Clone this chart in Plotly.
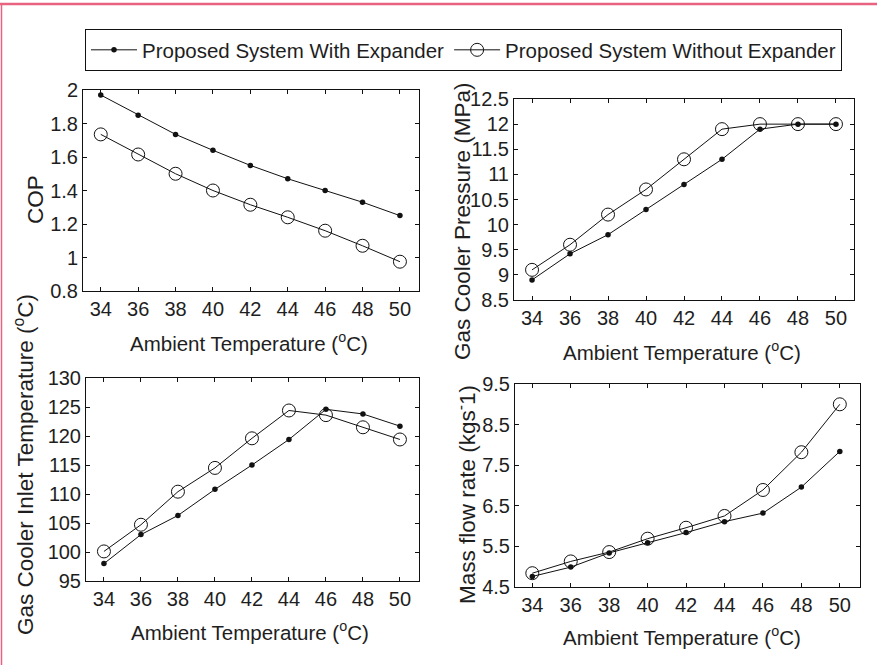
import plotly.graph_objects as go

# ---- data ----
ambient_temp = [34, 36, 38, 40, 42, 44, 46, 48, 50]

cop_with = [1.97, 1.85, 1.735, 1.64, 1.55, 1.47, 1.40, 1.33, 1.25]
cop_without = [1.735, 1.615, 1.50, 1.40, 1.315, 1.24, 1.16, 1.07, 0.975]

pressure_with = [8.9, 9.42, 9.8, 10.3, 10.8, 11.3, 11.9, 12.0, 12.0]
pressure_without = [9.1, 9.6, 10.2, 10.7, 11.3, 11.9, 12.0, 12.0, 12.0]

inlet_with = [98.0, 103.0, 106.3, 110.8, 115.0, 119.4, 124.6, 123.8, 121.7]
inlet_without = [100.1, 104.7, 110.4, 114.5, 119.6, 124.4, 123.6, 121.5, 119.4]

mass_with = [4.76, 4.99, 5.34, 5.59, 5.84, 6.11, 6.32, 6.96, 7.84]
mass_without = [4.84, 5.13, 5.36, 5.69, 5.96, 6.25, 6.89, 7.82, 9.0]

x_ticks = [34, 36, 38, 40, 42, 44, 46, 48, 50]
cop_ticks = [0.8, 1.0, 1.2, 1.4, 1.6, 1.8, 2.0]
cop_labels = ["0.8", "1", "1.2", "1.4", "1.6", "1.8", "2"]
pressure_ticks = [8.5, 9, 9.5, 10, 10.5, 11, 11.5, 12, 12.5]
pressure_labels = ["8.5", "9", "9.5", "10", "10.5", "11", "11.5", "12", "12.5"]
inlet_ticks = [95, 100, 105, 110, 115, 120, 125, 130]
mass_ticks = [4.5, 5.5, 6.5, 7.5, 8.5, 9.5]

series_names = ["Proposed System With Expander", "Proposed System Without Expander"]
x_title = "Ambient Temperature (<sup>o</sup>C)"
y_titles = ["COP", "Gas Cooler Pressure (MPa)",
            "Gas Cooler Inlet Temperature (<sup>o</sup>C)",
            "Mass flow rate (kgs<sup>-</sup>1)"]

# ---- layout helpers (pixel geometry) ----
W, H = 877, 665
FONT = "Liberation Sans, Arial, sans-serif"
TXT = "#1e1e1e"


def px_x(a, b):
    return [a / W, b / W]


def px_y(top, bottom):
    return [1 - bottom / H, 1 - top / H]


panels = [
    dict(xd=px_x(83, 419), yd=px_y(90, 291), xr=[33.05, 51.02], yr=[0.8, 2.0],
         yt=cop_ticks, ytl=cop_labels, w=cop_with, wo=cop_without),
    dict(xd=px_x(514, 854), yd=px_y(99, 300), xr=[33.05, 50.95], yr=[8.5, 12.5],
         yt=pressure_ticks, ytl=pressure_labels, w=pressure_with, wo=pressure_without),
    dict(xd=px_x(86, 419), yd=px_y(378, 581), xr=[33.03, 51.03], yr=[95, 130],
         yt=inlet_ticks, ytl=[str(v) for v in inlet_ticks], w=inlet_with, wo=inlet_without),
    dict(xd=px_x(515, 860), yd=px_y(384, 587), xr=[33.1, 51.05], yr=[4.5, 9.5],
         yt=mass_ticks, ytl=[str(v) for v in mass_ticks], w=mass_with, wo=mass_without),
]

fig = go.Figure()
layout_axes = {}
for i, p in enumerate(panels):
    k = "" if i == 0 else str(i + 1)
    fig.add_trace(go.Scatter(
        x=ambient_temp, y=p["w"], mode="lines+markers", name=series_names[0],
        xaxis="x" + k, yaxis="y" + k, showlegend=(i == 0),
        line=dict(color="#111111", width=1),
        marker=dict(symbol="circle", size=5.5, color="#111111"),
    ))
    fig.add_trace(go.Scatter(
        x=ambient_temp, y=p["wo"], mode="lines+markers", name=series_names[1],
        xaxis="x" + k, yaxis="y" + k, showlegend=(i == 0),
        line=dict(color="#111111", width=1),
        marker=dict(symbol="circle-open", size=13, color="#111111",
                    line=dict(width=1, color="#111111")),
    ))
    common = dict(showgrid=False, zeroline=False, showline=True, linecolor="#111111",
                  linewidth=1, mirror="ticks", ticks="inside", ticklen=4,
                  tickcolor="#111111", tickwidth=1,
                  tickfont=dict(family=FONT, size=20, color=TXT), automargin=False)
    layout_axes["xaxis" + k] = dict(domain=p["xd"], range=p["xr"], tickvals=x_ticks,
                                    anchor="y" + k, **common)
    layout_axes["yaxis" + k] = dict(domain=p["yd"], range=p["yr"], tickvals=p["yt"],
                                    ticktext=p["ytl"], anchor="x" + k, **common)

annotations = []
# x-axis titles
for (cx, cy) in [(249, 342), (682, 351), (250, 631), (682, 636)]:
    annotations.append(dict(text=x_title, x=cx / W, y=1 - cy / H, xref="paper", yref="paper",
                            showarrow=False, xanchor="center", yanchor="middle",
                            font=dict(family=FONT, size=20.5, color=TXT)))
# y-axis titles
for t, (cx, cy) in zip(y_titles, [(35, 200), (462, 221), (24, 465), (466, 495)]):
    annotations.append(dict(text=t, x=cx / W, y=1 - cy / H, xref="paper", yref="paper",
                            showarrow=False, xanchor="center", yanchor="middle", textangle=-90,
                            font=dict(family=FONT, size=22.5, color=TXT)))

shapes = [
    dict(type="line", xref="paper", yref="paper", x0=0, x1=1, y0=1 - 4 / H, y1=1 - 4 / H,
         line=dict(color="#e8637f", width=2.5)),
    dict(type="line", xref="paper", yref="paper", x0=1.5 / W, x1=1.5 / W, y0=0, y1=1 - 4 / H,
         line=dict(color="#e8637f", width=1.5)),
]

fig.update_layout(
    width=W, height=H, margin=dict(l=0, r=0, t=0, b=0),
    paper_bgcolor="white", plot_bgcolor="white",
    font=dict(family=FONT, color=TXT),
    legend=dict(orientation="h", x=85 / W, y=1 - 29 / H, xanchor="left", yanchor="top",
                bordercolor="#111111", borderwidth=1, bgcolor="white",
                itemwidth=46,
                font=dict(family=FONT, size=20.5, color=TXT)),
    annotations=annotations, shapes=shapes, **layout_axes,
)

fig.write_html("out.html")
